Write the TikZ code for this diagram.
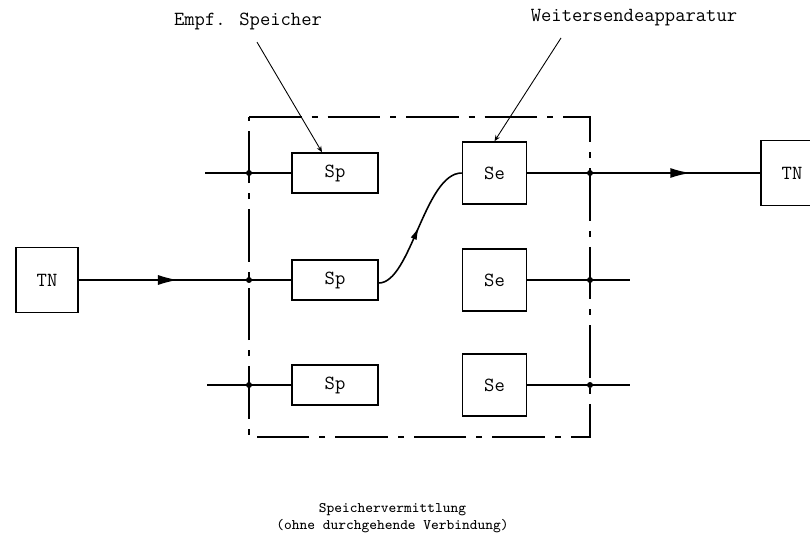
\documentclass[tikz,border=0pt]{standalone}
\usepackage{fontspec}
\usetikzlibrary{arrows.meta,decorations.markings}

\begin{document}
\begin{tikzpicture}[
					line width = 0.9pt,
					every node/.style = {font=\ttfamily\fontsize{11.4}{13}\selectfont},
					spbox/.style = {draw,minimum width=1.72cm,minimum height=0.8cm,inner sep=0},
					sebox/.style = {draw,minimum width=1.28cm,minimum height=1.24cm,inner sep=0},
					tnbox/.style = {draw,minimum width=1.24cm,minimum height=1.3cm,inner sep=0},
					junction/.style = {circle,fill,inner sep=0,minimum size=0.12cm},
					leader/.style = {line width=0.5pt,-{Stealth[length=0.12cm,width=0.1cm]}},
					frame/.style = {dash pattern=on 1.05cm off 0.2cm on 0.12cm off 0.2cm},
					midarrow/.style 2 args = {postaction={decorate,decoration={markings,
						mark=at position #1 with {\arrow{Latex[length=#2,width=0.5*#2]}}}}}
					]

					\useasboundingbox (0,0) rectangle (16.2,10.88);

					% Vermittlungsrahmen
					\draw[frame] (4.98,8.54) -- (11.8,8.54) -- (11.8,2.14) -- (4.98,2.14) -- cycle;

					% Teilnehmer
					\node[tnbox] (tnL) at (0.94,5.28) {TN};
					\node[tnbox] (tnR) at (15.84,7.42) {TN};

					% Speicher und Weitersender
					\node[spbox] (spA) at (6.7,7.42) {Sp};
					\node[spbox] (spB) at (6.7,5.28) {Sp};
					\node[spbox] (spC) at (6.7,3.18) {Sp};
					\node[sebox] (seA) at (9.89,7.42) {Se};
					\node[sebox] (seB) at (9.89,5.28) {Se};
					\node[sebox] (seC) at (9.89,3.18) {Se};

					% Anschlusspunkte am Rahmen
					\node[junction] (jA) at (4.98,7.42) {};
					\node[junction] (jB) at (4.98,5.28) {};
					\node[junction] (jC) at (4.98,3.18) {};
					\node[junction] (kA) at (11.8,7.42) {};
					\node[junction] (kB) at (11.8,5.28) {};
					\node[junction] (kC) at (11.8,3.18) {};
					\coordinate (inA) at (4.1,7.42);
					\coordinate (inC) at (4.14,3.18);
					\coordinate (outB) at (12.6,5.28);
					\coordinate (outC) at (12.6,3.18);

					% Leitungen
					\draw (inA) -- (spA.west);
					\draw (inC) -- (spC.west);
					\draw[midarrow={0.467}{0.4cm}] (tnL.east) -- (spB.west);
					\draw[midarrow={0.70}{0.4cm}] (seA.east) -- (tnR.west);
					\draw (seB.east) -- (outB);
					\draw (seC.east) -- (outC);
					\draw[midarrow={0.5}{0.26cm}] ([yshift=-0.06cm]spB.east) .. controls +(0.64,0) and +(-0.74,0) .. (seA.west);

					% Beschriftung
					\node (lblSp) at (4.96,10.46) {Empf. Speicher};
					\node (lblSe) at (12.68,10.52) {Weitersendeapparatur};
					\draw[leader] ([xshift=0.18cm,yshift=-0.12cm]lblSp.south) -- ([xshift=-0.26cm]spA.north);
					\draw[leader] ([xshift=-1.46cm,yshift=-0.1cm]lblSe.south) -- (seA.north);

					\node[align=center,font=\ttfamily\fontsize{8.3}{9.8}\selectfont] (caption) at (7.85,0.52)
						{Speichervermittlung\\(ohne durchgehende Verbindung)};

				\end{tikzpicture}
\end{document}
